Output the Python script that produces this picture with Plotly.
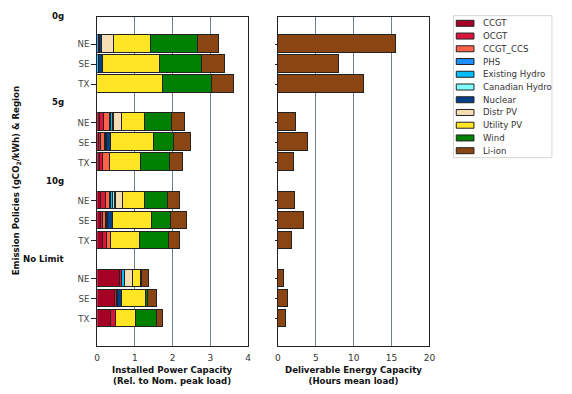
import plotly.graph_objects as go

# ---------------- data ----------------
policies = ["0g", "5g", "10g", "No Limit"]
regions = ["NE", "SE", "TX"]
# bar order: for each policy, NE, SE, TX
techs = ["CCGT", "OCGT", "CCGT_CCS", "PHS", "Existing Hydro", "Canadian Hydro",
         "Nuclear", "Distr PV", "Utility PV", "Wind", "Li-ion"]
ccgt      = [0, 0, 0, 0.08, 0.06, 0.08, 0.10, 0.11, 0.15, 0.61, 0.48, 0.38]
ocgt      = [0, 0, 0, 0.10, 0.05, 0.09, 0.13, 0.04, 0.11, 0.04, 0.04, 0.13]
ccgt_ccs  = [0, 0, 0, 0.17, 0.10, 0.18, 0.12, 0.09, 0.12, 0, 0, 0]
phs       = [0.04, 0, 0, 0.02, 0.03, 0, 0.02, 0.02, 0, 0.02, 0, 0]
ex_hydro  = [0.05, 0.04, 0, 0.05, 0.03, 0, 0.06, 0.03, 0, 0.06, 0.03, 0]
can_hydro = [0, 0, 0, 0.02, 0, 0, 0.05, 0, 0, 0.02, 0, 0]
nuclear   = [0.04, 0.12, 0, 0.02, 0.10, 0, 0.02, 0.13, 0, 0, 0.12, 0]
distr_pv  = [0.32, 0, 0, 0.20, 0, 0, 0.19, 0, 0, 0.21, 0, 0]
util_pv   = [0.98, 1.52, 1.75, 0.61, 1.14, 0.82, 0.57, 1.04, 0.76, 0.21, 0.62, 0.52]
wind      = [1.26, 1.10, 1.29, 0.71, 0.52, 0.77, 0.63, 0.50, 0.77, 0.03, 0.05, 0.55]
li_ion    = [0.54, 0.61, 0.59, 0.34, 0.46, 0.34, 0.32, 0.42, 0.29, 0.18, 0.24, 0.17]
energy_li_ion = [15.6, 8.0, 11.3, 2.4, 3.9, 2.1, 2.3, 3.4, 1.9, 0.8, 1.3, 1.1]

power = [ccgt, ocgt, ccgt_ccs, phs, ex_hydro, can_hydro, nuclear,
         distr_pv, util_pv, wind, li_ion]
colors = ["#A50026", "#DC143C", "#FF6347", "#1E90FF", "#00BFFF", "#7FFFFF",
          "#003F8C", "#F5DEB3", "#FFE524", "#008000", "#8B4513"]

# ---------------- layout helpers ----------------
W, H = 572, 394
GAP = 3.9
pos = [gi * GAP + ri for gi in range(len(policies)) for ri in range(len(regions))]
ticktext = [r for _ in policies for r in regions]
y_top, y_bot = -1.35, (len(policies) - 1) * GAP + 2 + 1.35
seps = [y_top] + [gi * GAP - (GAP - 2) / 2 for gi in range(1, len(policies))]

def px_x(p):
    return p / W

def px_y(p):
    return 1 - p / H

edge = "#222222"
grid = "#708090"
FONT = "DejaVu Sans"

fig = go.Figure()
for name, vals, col in zip(techs, power, colors):
    fig.add_trace(go.Bar(
        x=[v if v else None for v in vals], y=pos, orientation="h", name=name,
        marker=dict(color=col, line=dict(color=edge, width=1.3)),
        width=0.88, xaxis="x", yaxis="y", showlegend=False))

fig.add_trace(go.Bar(
    x=energy_li_ion, y=pos, orientation="h", name="Li-ion",
    marker=dict(color=colors[-1], line=dict(color=edge, width=1.3)),
    width=0.88, xaxis="x2", yaxis="y2", showlegend=False))

ydom = [px_y(346), px_y(17.3)]
common_x = dict(showgrid=True, gridcolor=grid, gridwidth=1, showline=True, mirror=True,
                linecolor=edge, linewidth=1.3, ticks="", zeroline=False,
                ticklabelstandoff=3,
                tickfont=dict(family=FONT, size=9, color="#333"))
common_y = dict(range=[y_bot, y_top], showgrid=False, showline=True, mirror=True,
                linecolor=edge, linewidth=1.3, zeroline=False, tickvals=pos,
                ticks="outside", tickcolor=edge, tickwidth=1, domain=ydom)

fig.update_layout(
    width=W, height=H, margin=dict(l=0, r=0, t=0, b=0),
    paper_bgcolor="white", plot_bgcolor="white", barmode="stack", bargap=0,
    font=dict(family=FONT, color="#222"),
    xaxis=dict(domain=[px_x(95.7), px_x(249)], range=[0, 4], tickvals=[0, 1, 2, 3, 4],
               anchor="y", **common_x),
    xaxis2=dict(domain=[px_x(279.3), px_x(433.3)], range=[0, 20], tickvals=[0, 5, 10, 15, 20],
                anchor="y2", **common_x),
    yaxis=dict(anchor="x", ticktext=ticktext, ticklen=5,
               tickfont=dict(family=FONT, size=8.6, color="#444"), **common_y),
    yaxis2=dict(anchor="x2", showticklabels=False, ticklen=2, **common_y),
    yaxis3=dict(overlaying="y", anchor="x", side="left", range=[y_bot, y_top],
                tickvals=seps, ticks="outside", ticklen=18, tickcolor=edge, tickwidth=1.3,
                showticklabels=False, showgrid=True, gridcolor=grid, gridwidth=1,
                zeroline=False, showline=False),
    yaxis4=dict(overlaying="y2", anchor="x2", side="left", range=[y_bot, y_top],
                tickvals=seps, ticks="outside", ticklen=3.5, tickcolor=edge, tickwidth=1.3,
                showticklabels=False, showgrid=True, gridcolor=grid, gridwidth=1,
                zeroline=False, showline=False),
)

ann = []
bold = dict(family=FONT, size=8.6, color="#111")
for p, s in zip(policies, seps):
    ann.append(dict(text="<b>%s</b>" % p, x=px_x(63.5), xref="paper", y=s, yref="y",
                    xanchor="right", yanchor="middle", yshift=1, showarrow=False, font=bold))
ann.append(dict(text="<b>Installed Power Capacity<br>(Rel. to Nom. peak load)</b>",
                x=px_x(172.3), y=px_y(375), xref="paper", yref="paper",
                xanchor="center", yanchor="middle", showarrow=False, font=bold))
ann.append(dict(text="<b>Deliverable Energy Capacity<br>(Hours mean load)</b>",
                x=px_x(356.3), y=px_y(375), xref="paper", yref="paper",
                xanchor="center", yanchor="middle", showarrow=False, font=bold))
ann.append(dict(text="<b>Emission Policies (gCO<sub>2</sub>/kWh) & Region</b>",
                x=px_x(13.5), y=px_y(181), xref="paper", yref="paper", textangle=-90,
                xanchor="center", yanchor="middle", showarrow=False, font=bold))

# legend box
shapes = [dict(type="rect", xref="paper", yref="paper", x0=px_x(457.7), x1=px_x(557.7),
               y0=px_y(157.7), y1=px_y(15.7), line=dict(color="#d4d4d4", width=1),
               fillcolor="white", layer="below")]
for i, (name, col) in enumerate(zip(techs, colors)):
    yc = 23.3 + i * 12.74
    shapes.append(dict(type="rect", xref="paper", yref="paper",
                       x0=px_x(460.5), x1=px_x(478.5), y0=px_y(yc + 3), y1=px_y(yc - 3),
                       fillcolor=col, line=dict(color=edge, width=1)))
    ann.append(dict(text=name, x=px_x(485.5), y=px_y(yc), xref="paper", yref="paper",
                    xanchor="left", yanchor="middle", showarrow=False,
                    font=dict(family=FONT, size=8.6, color="#333")))

fig.update_layout(annotations=ann, shapes=shapes)
fig.write_html("out.html", config={"displayModeBar": False},
               post_script="document.body.style.margin='0px';document.body.style.overflow='hidden';")
